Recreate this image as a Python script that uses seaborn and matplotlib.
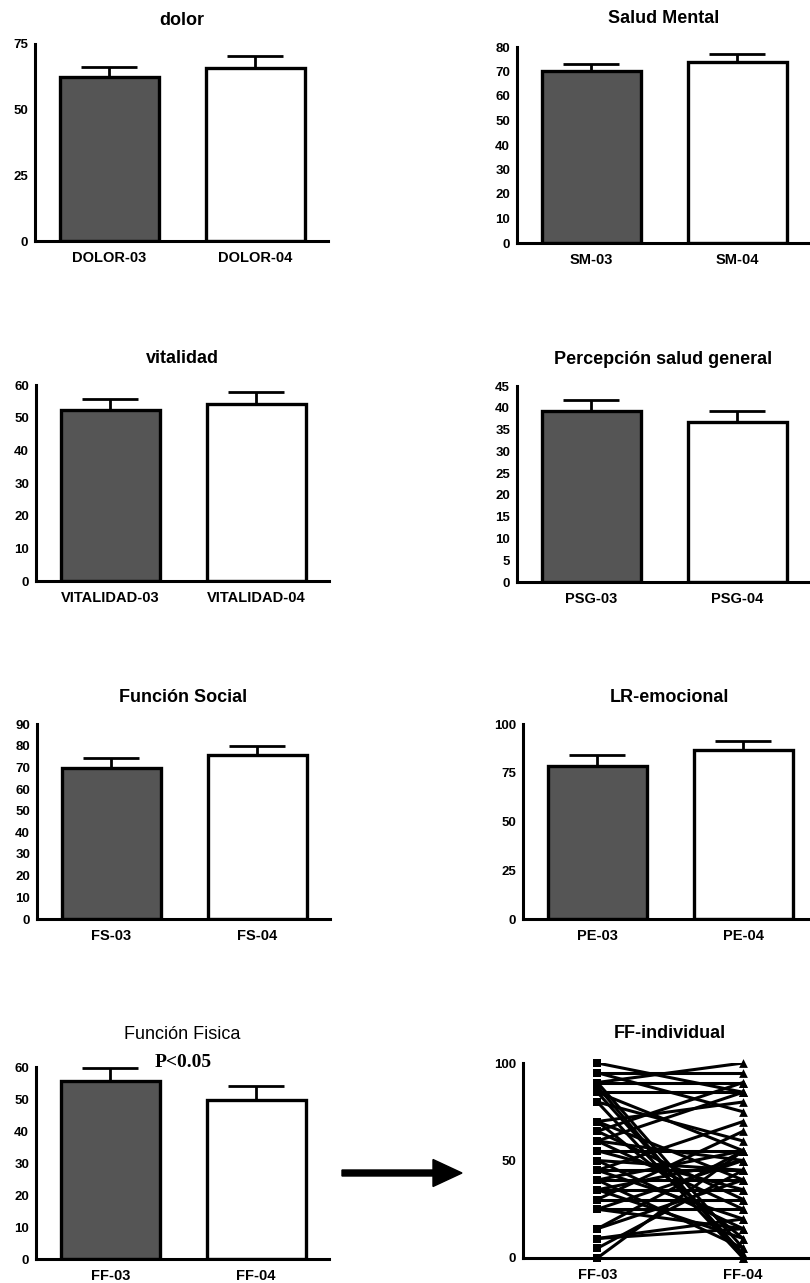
import numpy as np
import pandas as pd
import seaborn as sns
import matplotlib
matplotlib.use("Agg")
import matplotlib.pyplot as plt
from matplotlib.patches import FancyArrow

# bar panels: title, category labels, means, SEM, y ticks
titles = ["dolor", "Salud Mental", "vitalidad", "Percepción salud general",
          "Función Social", "LR-emocional", "Función Fisica"]
labels = [["DOLOR-03", "DOLOR-04"], ["SM-03", "SM-04"],
          ["VITALIDAD-03", "VITALIDAD-04"], ["PSG-03", "PSG-04"],
          ["FS-03", "FS-04"], ["PE-03", "PE-04"], ["FF-03", "FF-04"]]
means = [[62.3, 66.0], [70.2, 74.0], [52.3, 54.2], [39.3, 36.8],
         [69.6, 75.8], [78.7, 86.8], [55.7, 49.7]]
sems = [[4.0, 4.3], [3.0, 3.3], [3.5, 3.6], [2.5, 2.5],
        [4.5, 4.2], [5.2, 4.3], [4.0, 4.5]]
yticks = [[0, 25, 50, 75], list(range(0, 81, 10)), list(range(0, 61, 10)),
          list(range(0, 46, 5)), list(range(0, 91, 10)), [0, 25, 50, 75, 100],
          list(range(0, 61, 10))]

# individual physical function scores (paired)
ff_03 = [100, 95, 95, 90, 90, 90, 88, 85, 85, 85, 80, 80, 70, 70, 65, 65, 60, 60,
         55, 55, 50, 50, 45, 45, 45, 40, 40, 40, 35, 35, 35, 30, 30, 25, 25, 25,
         15, 15, 10, 10, 5, 0, 70, 60]
ff_04 = [85, 95, 75, 100, 90, 5, 0, 85, 55, 2, 60, 0, 80, 10, 90, 30, 85, 25,
         55, 35, 45, 15, 45, 70, 20, 55, 40, 5, 50, 35, 10, 65, 30, 50, 25, 15,
         55, 40, 20, 15, 45, 55, 40, 50]

W, H = 810, 1283
fig = plt.figure(figsize=(W / 100, H / 100), dpi=100)
sns.set_style("white")
plt.rcParams["font.family"] = ["Liberation Sans", "DejaVu Sans"]
for k in ["text.color", "axes.labelcolor", "xtick.color", "ytick.color", "axes.edgecolor"]:
    plt.rcParams[k] = "black"

# (left px, top px, bottom px, title pad)
boxes = [(35, 44, 241, 14), (517, 47, 243, 17), (36, 385, 581, 16), (517, 386, 582, 16),
         (37, 724, 919, 16), (523, 724, 919, 16), (36, 1067, 1259, 20), (523, 1063, 1258, 18)]
axw = 293


def make_ax(box):
    left, top, bottom, pad = box
    ax = fig.add_axes([left / W, 1 - bottom / H, axw / W, (bottom - top) / H])
    for s in ["top", "right"]:
        ax.spines[s].set_visible(False)
    for s in ["left", "bottom"]:
        ax.spines[s].set_linewidth(2.2)
        ax.spines[s].set_color("black")
    ax.tick_params(axis="y", length=4, width=2, pad=1, labelsize=9.5, colors="black")
    ax.tick_params(axis="x", length=4, width=2, pad=3, labelsize=10.5, colors="black")
    return ax


def finish(ax):
    ax.set_xlabel("")
    ax.set_ylabel("")
    ax.set_xlim(-0.51, 1.5)
    for t in ax.get_xticklabels() + ax.get_yticklabels():
        t.set_fontweight("bold")


for i in range(7):
    ax = make_ax(boxes[i])
    df = pd.DataFrame({"cat": labels[i], "val": means[i]})
    sns.barplot(data=df, x="cat", y="val", hue="cat", palette=["#555555", "white"],
                edgecolor="black", linewidth=2.4, width=0.68, legend=False, ax=ax)
    ax.errorbar([0, 1], means[i], yerr=[[0, 0], sems[i]], fmt="none",
                ecolor="black", elinewidth=2, capsize=20, capthick=2, zorder=0)
    ax.set_ylim(0, yticks[i][-1])
    ax.set_yticks(yticks[i])
    finish(ax)
    weight = "normal" if i == 6 else "bold"
    ax.set_title(titles[i], fontsize=13, fontweight=weight, pad=boxes[i][3], color="black")

# P value note on physical function panel
fig.axes[6].text(0.5, 61.5, "P<0.05", ha="center", va="center", fontsize=14,
                 fontweight="bold", family=["Liberation Serif", "DejaVu Serif"],
                 clip_on=False, color="black")

# individual paired lines
ax = make_ax(boxes[7])
n = len(ff_03)
long = pd.DataFrame({"subject": list(range(n)) * 2,
                     "time": [0] * n + [1] * n,
                     "ff": ff_03 + ff_04})
sns.lineplot(data=long, x="time", y="ff", units="subject", estimator=None,
             color="black", linewidth=2.2, ax=ax)
sns.scatterplot(x=[0] * n, y=ff_03, marker="s", s=36, color="black",
                edgecolor="black", linewidth=0, ax=ax, zorder=3, clip_on=False)
sns.scatterplot(x=[1] * n, y=ff_04, marker="^", s=40, color="black",
                edgecolor="black", linewidth=0, ax=ax, zorder=3, clip_on=False)
ax.set_xticks([0, 1])
ax.set_xticklabels(["FF-03", "FF-04"])
ax.set_yticks([0, 50, 100])
ax.set_ylim(0, 100)
finish(ax)
ax.set_title("FF-individual", fontsize=13, fontweight="bold", pad=boxes[7][3], color="black")

# arrow between the last two panels
fig.add_artist(FancyArrow(3.42, (H - 1173) / 100, 1.20, 0, width=0.06,
                          head_width=0.27, head_length=0.29,
                          length_includes_head=True, color="black",
                          transform=fig.dpi_scale_trans))

fig.savefig("out.png", dpi=100)
